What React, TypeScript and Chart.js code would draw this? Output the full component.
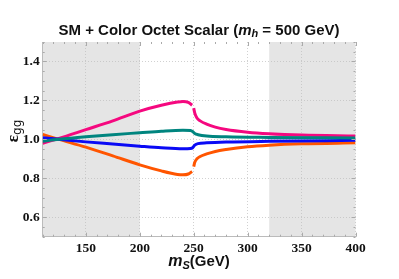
import React, { useEffect, useRef } from "react";
import { Chart, registerables } from "chart.js";

Chart.register(...registerables);

const xTicks = [150, 200, 250, 300, 350, 400];
const yTicks = [0.6, 0.8, 1.0, 1.2, 1.4];
const shadedRanges: [number, number][] = [
  [110, 200],
  [320, 400],
];

const pinkX = [110, 125, 150, 175, 200, 220, 235, 240, 245, 248.5, 249.3, 250, 251, 253, 256, 262, 270, 280, 300, 320, 350, 400];
const pinkY = [0.98, 1.005, 1.05, 1.095, 1.145, 1.175, 1.192, 1.195, 1.19, 1.175, null, 1.16, 1.135, 1.11, 1.095, 1.078, 1.063, 1.051, 1.037, 1.029, 1.022, 1.017];

const tealX = [110, 125, 150, 175, 200, 220, 240, 247, 249, 251, 254, 262, 280, 320, 400];
const tealY = [0.99, 1.0, 1.013, 1.024, 1.034, 1.042, 1.047, 1.045, 1.04, 1.03, 1.024, 1.017, 1.013, 1.01, 1.007];

const blueX = [110, 125, 150, 175, 200, 220, 240, 247, 249, 251, 254, 262, 280, 320, 400];
const blueY = [1.008, 1.0, 0.987, 0.976, 0.965, 0.957, 0.952, 0.953, 0.957, 0.97, 0.978, 0.982, 0.986, 0.99, 0.995];

const orangeX = [110, 125, 150, 175, 200, 220, 235, 240, 245, 248.5, 249.3, 250, 251, 253, 256, 262, 270, 280, 300, 320, 350, 400];
const orangeY = [1.025, 1.0, 0.96, 0.915, 0.869, 0.838, 0.82, 0.818, 0.822, 0.835, null, 0.86, 0.882, 0.9, 0.912, 0.925, 0.938, 0.948, 0.962, 0.97, 0.977, 0.982];

const toPts = (xs: number[], ys: (number | null)[]) => xs.map((x, i) => ({ x, y: ys[i] }));

const decorPlugin = {
  id: "decor",
  beforeDraw(chart: any) {
    const { ctx, chartArea: a, scales } = chart;
    const xs = scales.x;
    ctx.save();
    ctx.fillStyle = "#e5e5e5";
    for (const [lo, hi] of shadedRanges) {
      const x0 = xs.getPixelForValue(lo);
      const x1 = xs.getPixelForValue(hi);
      ctx.fillRect(x0, a.top, x1 - x0, a.bottom - a.top);
    }
    ctx.restore();
  },
  afterDraw(chart: any) {
    const { ctx, chartArea: a, scales } = chart;
    const xs = scales.x;
    const ys = scales.y;
    ctx.save();
    ctx.strokeStyle = "#aaaaaa";
    ctx.lineWidth = 1;
    ctx.beginPath();
    for (let v = 110; v <= 400; v += 10) {
      const px = Math.round(xs.getPixelForValue(v)) + 0.5;
      const len = v % 50 === 0 ? 4 : 2;
      ctx.moveTo(px, a.bottom);
      ctx.lineTo(px, a.bottom - len);
      ctx.moveTo(px, a.top);
      ctx.lineTo(px, a.top + len);
    }
    for (let k = 10; k <= 30; k++) {
      const v = k * 0.05;
      const py = Math.round(ys.getPixelForValue(v)) + 0.5;
      const len = k % 4 === 0 ? 4 : 2;
      ctx.moveTo(a.left, py);
      ctx.lineTo(a.left + len, py);
      ctx.moveTo(a.right, py);
      ctx.lineTo(a.right - len, py);
    }
    ctx.stroke();

    const drawParts = (ps: any[], cx: number, cy: number) => {
      let w = 0;
      for (const p of ps) {
        ctx.font = p.f;
        w += ctx.measureText(p.t).width;
      }
      let x = cx - w / 2;
      ctx.textBaseline = "middle";
      ctx.textAlign = "left";
      for (const p of ps) {
        ctx.font = p.f;
        ctx.fillText(p.t, x, cy + p.dy);
        x += ctx.measureText(p.t).width;
      }
    };
    ctx.fillStyle = "#111";
    drawParts(
      [
        { t: "SM + Color Octet Scalar (", f: "bold 15px 'Liberation Sans'", dy: 0 },
        { t: "m", f: "italic bold 15px 'Liberation Sans'", dy: 0 },
        { t: "h", f: "italic bold 11px 'Liberation Sans'", dy: 3 },
        { t: " = 500 GeV)", f: "bold 15px 'Liberation Sans'", dy: 0 },
      ],
      199,
      31
    );

    drawParts(
      [
        { t: "m", f: "italic bold 16px 'Liberation Sans'", dy: 0 },
        { t: "S", f: "italic bold 11px 'Liberation Sans'", dy: 4 },
        { t: "(GeV)", f: "bold 15px 'Liberation Sans'", dy: 0 },
      ],
      199,
      262
    );

    ctx.save();
    ctx.translate(14, 131);
    ctx.rotate(-Math.PI / 2);
    drawParts(
      [
        { t: "\u03b5", f: "bold 17px 'Liberation Serif'", dy: 0 },
        { t: "gg", f: "12px 'DejaVu Sans'", dy: 4 },
      ],
      0,
      0
    );
    ctx.restore();
    ctx.restore();
  },
};

export default function App() {
  const ref = useRef<HTMLCanvasElement | null>(null);
  useEffect(() => {
    document.body.style.margin = "0";
    const canvas = ref.current;
    if (!canvas) return;
    const mk = (label: string, data: any[], color: string) => ({
      label,
      data,
      borderColor: color,
      backgroundColor: color,
      borderWidth: 3,
      pointRadius: 0,
      fill: false,
      spanGaps: false,
      cubicInterpolationMode: "monotone" as const,
    });
    const tickFont = { family: "'Liberation Serif'", weight: "bold" as const, size: 13.5 };
    const chart = new Chart(canvas, {
      type: "line",
      data: {
        datasets: [
          mk("teal", toPts(tealX, tealY), "#00857f"),
          mk("blue", toPts(blueX, blueY), "#0a0af5"),
          mk("pink", toPts(pinkX, pinkY), "#f5087f"),
          mk("orange", toPts(orangeX, orangeY), "#ff5500"),
        ],
      },
      options: {
        animation: false,
        responsive: false,
        maintainAspectRatio: false,
        layout: { padding: { top: 42, left: 0, right: 43.5, bottom: 0 } },
        plugins: { legend: { display: false }, tooltip: { enabled: false }, title: { display: false } },
        scales: {
          x: {
            type: "linear",
            min: 110,
            max: 400,
            afterFit: (s: any) => {
              s.height = 42.3;
            },
            afterBuildTicks: (s: any) => {
              s.ticks = xTicks.map((v) => ({ value: v }));
            },
            grid: { color: "rgba(190,190,190,0.7)", drawTicks: false },
            border: { color: "#bbbbbb", dash: [1, 2] },
            ticks: { padding: 4, color: "#111", font: tickFont, maxRotation: 0 },
          },
          y: {
            type: "linear",
            min: 0.5,
            max: 1.5,
            afterFit: (s: any) => {
              s.width = 42.7;
            },
            afterBuildTicks: (s: any) => {
              s.ticks = yTicks.map((v) => ({ value: v }));
            },
            grid: { color: "rgba(190,190,190,0.7)", drawTicks: false },
            border: { color: "#bbbbbb", dash: [1, 2] },
            ticks: {
              padding: 3,
              color: "#111",
              font: tickFont,
              callback: (v: any) => Number(v).toFixed(1),
            },
          },
        },
      },
      plugins: [decorPlugin],
    });
    return () => chart.destroy();
  }, []);
  return <canvas ref={ref} width={399} height={279} style={{ display: "block" }} />;
}
